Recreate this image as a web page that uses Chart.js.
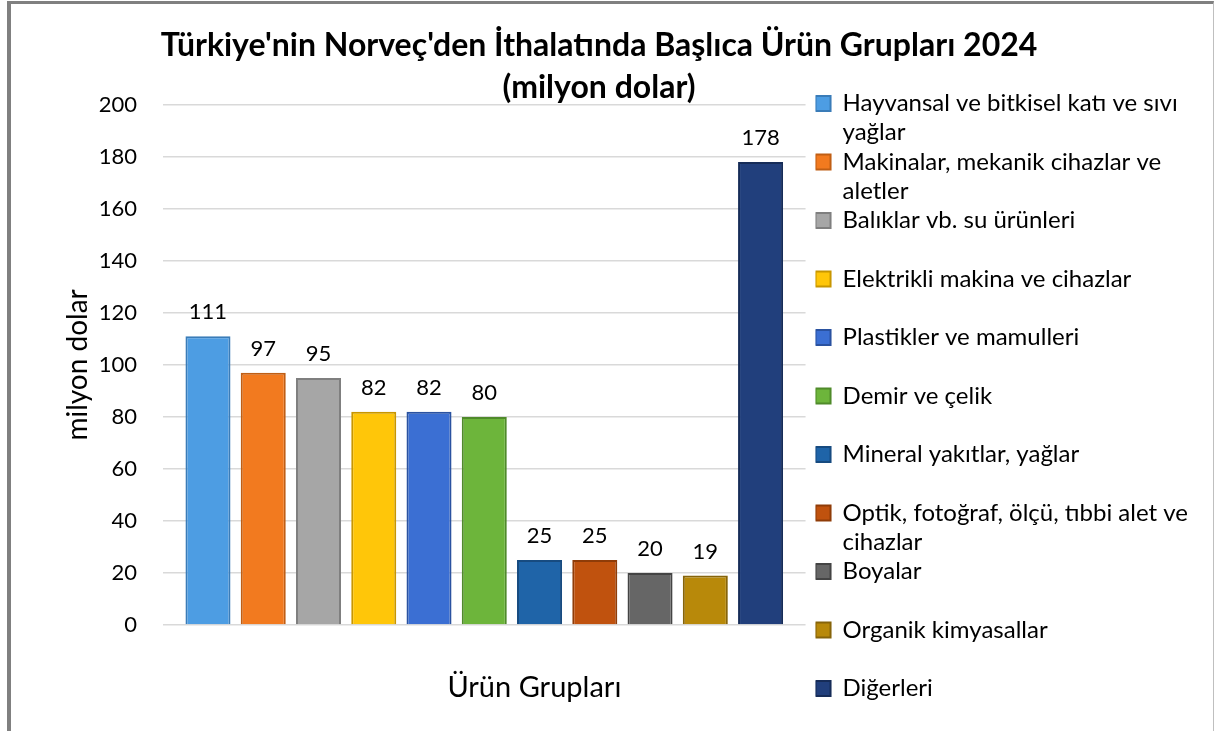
<!DOCTYPE html>
<html>
<head>
<meta charset="utf-8">
<script src="https://cdn.jsdelivr.net/npm/chart.js@4/dist/chart.umd.min.js"></script>
<style>
  html, body { margin: 0; padding: 0; background: #fff; overflow: hidden; }
  #wrap { position: relative; width: 1215px; height: 731px; }
  #frame {
    position: absolute; left: 7px; top: 1px; width: 1202px; height: 800px;
    border-left: 4px solid #808080; border-top: 3px solid #808080; border-right: 1px solid #bfbfbf;
    pointer-events: none;
  }
</style>
</head>
<body>
<div id="wrap">
  <canvas id="grafik" width="1215" height="731"></canvas>
  <div id="frame"></div>
</div>
<script>
// urun gruplari ve degerler (milyon dolar)
const urunler = [
  'Hayvansal ve bitkisel katı ve sıvı yağlar',
  'Makinalar, mekanik cihazlar ve aletler',
  'Balıklar vb. su ürünleri',
  'Elektrikli makina ve cihazlar',
  'Plastikler ve mamulleri',
  'Demir ve çelik',
  'Mineral yakıtlar, yağlar',
  'Optik, fotoğraf, ölçü, tıbbi alet ve cihazlar',
  'Boyalar',
  'Organik kimyasallar',
  'Diğerleri'
];
const degerler = [111, 97, 95, 82, 82, 80, 25, 25, 20, 19, 178];

// legend satirlari (uzun isimler iki satir)
const legendSatirlar = [
  ['Hayvansal ve bitkisel katı ve sıvı', 'yağlar'],
  ['Makinalar, mekanik cihazlar ve', 'aletler'],
  ['Balıklar vb. su ürünleri', ''],
  ['Elektrikli makina ve cihazlar', ''],
  ['Plastikler ve mamulleri', ''],
  ['Demir ve çelik', ''],
  ['Mineral yakıtlar, yağlar', ''],
  ['Optik, fotoğraf, ölçü, tıbbi alet ve', 'cihazlar'],
  ['Boyalar', ''],
  ['Organik kimyasallar', ''],
  ['Diğerleri']
];

const yTicks = [0, 20, 40, 60, 80, 100, 120, 140, 160, 180, 200];
const xBaslik = 'Ürün Grupları';

const renkler = ['#4d9de3', '#f27a1f', '#a6a6a6', '#ffc609', '#3b6fd3', '#6db53b',
                 '#1f64a8', '#c0520e', '#666666', '#b8890a', '#213f7c'];
const kenarlar = ['#3a7cb8', '#c05e14', '#7f7f7f', '#c89600', '#2a52a0', '#4f8a2a',
                  '#174b80', '#8f3c08', '#444444', '#86640a', '#162c58'];

const yazi = 'Lato, "Open Sans", sans-serif';

// bar ustu degerler + x ekseni basligi
const degerEtiketleri = {
  id: 'degerEtiketleri',
  afterDatasetsDraw(chart) {
    const ctx = chart.ctx;
    ctx.save();
    ctx.font = '22px ' + yazi;
    ctx.fillStyle = '#000';
    ctx.textAlign = 'center';
    ctx.textBaseline = 'middle';
    chart.data.datasets.forEach((ds, i) => {
      const el = chart.getDatasetMeta(i).data[0];
      ctx.fillText(ds.data[0], el.x, el.y - 24);
    });
    // eksen basligi (Excel'deki gibi biraz saga kayik)
    const a = chart.chartArea;
    ctx.font = '29px ' + yazi;
    ctx.fillText(xBaslik, a.left + (a.right - a.left) * 0.578, a.bottom + 63);
    ctx.restore();
  }
};

const ctx = document.getElementById('grafik');

new Chart(ctx, {
  type: 'bar',
  data: {
    labels: [''],
    datasets: urunler.map((u, i) => ({
      label: u,
      data: [degerler[i]],
      backgroundColor: renkler[i],
      borderColor: kenarlar[i],
      borderWidth: 2,
      categoryPercentage: 0.946,
      barPercentage: 0.815
    }))
  },
  options: {
    responsive: false,
    animation: false,
    layout: { padding: { left: 0, right: 17, top: 0, bottom: 0 } },
    plugins: {
      title: {
        display: true,
        text: ["Türkiye'nin Norveç'den İthalatında Başlıca Ürün Grupları 2024", '(milyon dolar)'],
        color: '#000',
        font: { family: yazi, size: 32, weight: 'bold', lineHeight: 1.31 },
        padding: { top: 25, bottom: -4 }
      },
      legend: {
        position: 'right',
        align: 'start',
        maxWidth: 420,
        title: { display: true, text: '', font: { family: yazi, size: 24, lineHeight: 1 }, padding: { top: 67.5, bottom: 0 } },
        labels: {
          color: '#000',
          font: { family: yazi, size: 24, lineHeight: 1.21875 },
          boxWidth: 15,
          boxHeight: 15,
          padding: 0,
          generateLabels(chart) {
            const items = Chart.defaults.plugins.legend.labels.generateLabels(chart);
            items.forEach((it, i) => { it.text = legendSatirlar[i]; });
            return items;
          }
        }
      },
      tooltip: { enabled: false }
    },
    scales: {
      x: {
        grid: { display: false, drawTicks: false },
        border: { display: false },
        ticks: { display: false },
        afterFit(s) { s.height = 106; }
      },
      y: {
        min: 0,
        max: 200,
        afterBuildTicks(s) { s.ticks = yTicks.map(v => ({ value: v })); },
        grid: { color: '#d9d9d9', lineWidth: 1.5, drawTicks: false },
        border: { display: false },
        ticks: { color: '#000', font: { family: yazi, size: 22 }, padding: 26 },
        title: {
          display: true,
          text: 'milyon dolar',
          color: '#000',
          font: { family: yazi, size: 28 },
          padding: { top: 61, bottom: 0 }
        },
        afterFit(s) { s.width = 163; }
      },
      y2: {
        position: 'right',
        grid: { display: false, drawTicks: false },
        border: { display: false },
        ticks: { display: false },
        afterFit(s) { s.width = 10; }
      }
    }
  },
  plugins: [degerEtiketleri]
});
</script>
</body>
</html>
